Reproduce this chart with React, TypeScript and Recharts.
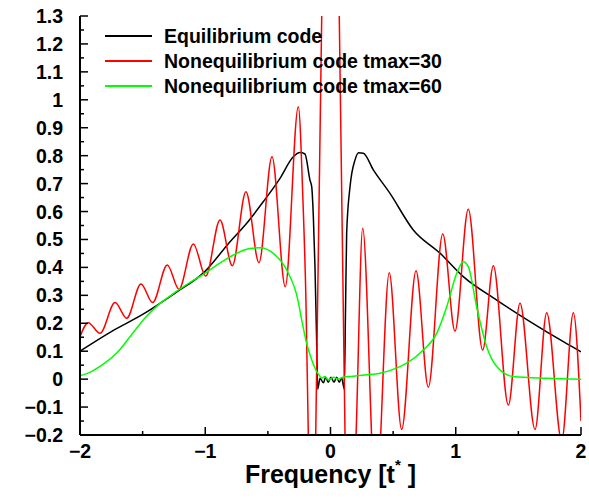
import React from 'react';
import { LineChart, Line, XAxis, YAxis, Legend, Label } from 'recharts';

// values
const blackX = [-2, -1.75, -1.483, -1.244, -1.004, -0.802, -0.669, -0.537, -0.403, -0.297, -0.244, -0.204, -0.164, -0.15, -0.137, -0.124, -0.112, -0.102, -0.084, -0.057, -0.038, -0.018, 0.004, 0.028, 0.049, 0.07, 0.089, 0.11, 0.12, 0.129, 0.156, 0.196, 0.225, 0.262, 0.342, 0.475, 0.661, 0.874, 1.06, 1.327, 1.593, 1.859, 2];
const blackY = [0.1, 0.17, 0.236, 0.307, 0.385, 0.492, 0.558, 0.635, 0.719, 0.796, 0.811, 0.806, 0.713, 0.689, 0.582, 0.403, 0.164, -0.036, 0.003, -0.013, 0.007, -0.011, 0.007, -0.011, 0.007, -0.011, 0.005, -0.036, 0.25, 0.522, 0.689, 0.785, 0.81, 0.809, 0.749, 0.665, 0.534, 0.451, 0.367, 0.283, 0.206, 0.134, 0.098];

const redX = [-2, -1.934, -1.84, -1.72, -1.627, -1.513, -1.42, -1.303, -1.21, -1.095, -0.996, -0.882, -0.784, -0.675, -0.571, -0.467, -0.361, -0.257, -0.22, -0.196, -0.177, -0.147, -0.118, -0.07, -0.035, 0, 0.035, 0.07, 0.116, 0.16, 0.204, 0.257, 0.362, 0.469, 0.568, 0.683, 0.781, 0.896, 0.994, 1.1, 1.215, 1.3, 1.42, 1.513, 1.633, 1.726, 1.846, 1.939, 2];
const redY = [0.152, 0.202, 0.164, 0.274, 0.218, 0.341, 0.274, 0.409, 0.322, 0.484, 0.369, 0.57, 0.406, 0.671, 0.417, 0.796, 0.331, 0.975, 0.64, 0.28, -0.2, -0.65, -0.2, 1.3, 3.2, 3.8, 3.2, 1.3, -0.2, -0.7, -0.2, 0.54, -0.45, 0.381, -0.18, 0.388, -0.029, 0.52, 0.172, 0.608, 0.104, 0.406, -0.093, 0.272, -0.18, 0.238, -0.22, 0.238, -0.15];

const greenX = [-2, -1.91, -1.803, -1.697, -1.59, -1.483, -1.377, -1.271, -1.111, -1.004, -0.925, -0.802, -0.643, -0.563, -0.457, -0.35, -0.26, -0.23, -0.19, -0.15, -0.11, -0.092, -0.07, -0.045, -0.017, 0.022, 0.062, 0.102, 0.196, 0.276, 0.395, 0.555, 0.608, 0.741, 0.848, 0.928, 1.008, 1.06, 1.1, 1.167, 1.247, 1.327, 1.46, 1.726, 2];
const greenY = [0.012, 0.027, 0.057, 0.098, 0.158, 0.218, 0.265, 0.301, 0.349, 0.379, 0.403, 0.438, 0.468, 0.47, 0.45, 0.391, 0.283, 0.212, 0.128, 0.069, 0.027, 0.015, 0.003, 0.009, -0.003, 0.007, 0, 0.007, 0.011, 0.015, 0.021, 0.045, 0.057, 0.104, 0.164, 0.259, 0.379, 0.42, 0.403, 0.259, 0.116, 0.045, 0.009, 0.003, 0];

const xMajorTicks = [-2, -1, 0, 1, 2];
const xMinorTicks = [-1.5, -0.5, 0.5, 1.5];
const yMajorTicks = [-0.2, -0.1, 0, 0.1, 0.2, 0.3, 0.4, 0.5, 0.6, 0.7, 0.8, 0.9, 1, 1.1, 1.2, 1.3];
const yMinorTicks = [-0.15, -0.05, 0.05, 0.15, 0.25, 0.35, 0.45, 0.55, 0.65, 0.75, 0.85, 0.95, 1.05, 1.15, 1.25];

const seriesNames = ['Equilibrium code', 'Nonequilibrium code tmax=30', 'Nonequilibrium code tmax=60'];

const toPoints = (xs: number[], ys: number[]) => xs.map((x, i) => ({ x, y: ys[i] }));
const blackData = toPoints(blackX, blackY);
const redData = toPoints(redX, redY);
const greenData = toPoints(greenX, greenY);

const xTicks = [...xMajorTicks, ...xMinorTicks].sort((a, b) => a - b);
const yTicks = [...yMajorTicks, ...yMinorTicks].sort((a, b) => a - b);

const FONT = '"Liberation Sans", Arial, Helvetica, sans-serif';
const fmt = (v: number) => (v < 0 ? '\u2212' + Math.abs(v) : String(v));

// gnuplot-style inward ticks
const BottomTick = (props: any) => {
  const { x, y, payload } = props;
  const major = xMajorTicks.includes(payload.value);
  return (
    <g>
      <line x1={x} x2={x} y1={y} y2={y - (major ? 8 : 4)} stroke="#000" strokeWidth={1.5} />
      {major && (
        <text x={x} y={y + 23} textAnchor="middle" fontFamily={FONT} fontWeight="bold" fontSize={19.5} fill="#000">
          {fmt(payload.value)}
        </text>
      )}
    </g>
  );
};

const TopTick = (props: any) => {
  const { x, y, payload } = props;
  const major = xMajorTicks.includes(payload.value);
  return <line x1={x} x2={x} y1={y} y2={y + (major ? 8 : 4)} stroke="#000" strokeWidth={1.5} />;
};

const LeftTick = (props: any) => {
  const { x, y, payload } = props;
  const major = yMajorTicks.includes(payload.value);
  return (
    <g>
      <line x1={x} x2={x + (major ? 8 : 4)} y1={y} y2={y} stroke="#000" strokeWidth={1.5} />
      {major && (
        <text x={x - 17} y={y} dy="0.36em" textAnchor="end" fontFamily={FONT} fontWeight="bold" fontSize={19.5} fill="#000">
          {fmt(payload.value)}
        </text>
      )}
    </g>
  );
};

const RightTick = (props: any) => {
  const { x, y, payload } = props;
  const major = yMajorTicks.includes(payload.value);
  return <line x1={x} x2={x - (major ? 8 : 4)} y1={y} y2={y} stroke="#000" strokeWidth={1.5} />;
};

const LegendBox = (props: any) => {
  const items = props.payload || [];
  return (
    <div style={{ fontFamily: FONT, fontWeight: 'bold', fontSize: 19.5, color: '#000' }}>
      {items.map((it: any) => (
        <div key={it.value} style={{ display: 'flex', alignItems: 'center', height: 25, lineHeight: '25px', whiteSpace: 'nowrap' }}>
          <span style={{ display: 'inline-block', width: 47, height: 1.5, background: it.color, marginRight: 12 }} />
          <span>{it.value}</span>
        </div>
      ))}
    </div>
  );
};

const AxisTitle = (props: any) => {
  const { viewBox } = props;
  const cx = viewBox.x + viewBox.width / 2;
  return (
    <text x={cx} y={viewBox.y + 48} textAnchor="middle" fontFamily={FONT} fontWeight="bold" fontSize={25} fill="#000">
      <tspan>Frequency [t</tspan>
      <tspan dy={-13} fontSize={15}>*</tspan>
      <tspan dy={13}> ]</tspan>
    </text>
  );
};

const axisLine = { stroke: '#000', strokeWidth: 2 };

export default function App() {
  return (
    <div style={{ position: 'absolute', left: 0, top: 0, background: '#fff' }}>
      <LineChart width={589} height={500} margin={{ top: 16, right: 8, bottom: 0, left: 0 }}>
        <XAxis
          dataKey="x"
          type="number"
          domain={[-2, 2]}
          allowDataOverflow
          ticks={xTicks}
          interval={0}
          height={65}
          tickSize={0}
          tickMargin={0}
          tickLine={false}
          axisLine={axisLine}
          tick={<BottomTick />}
        >
          <Label content={<AxisTitle />} />
        </XAxis>
        <XAxis
          xAxisId="top"
          dataKey="x"
          type="number"
          orientation="top"
          domain={[-2, 2]}
          allowDataOverflow
          ticks={xTicks}
          interval={0}
          height={0}
          tickSize={0}
          tickMargin={0}
          tickLine={false}
          axisLine={axisLine}
          tick={<TopTick />}
        />
        <YAxis
          type="number"
          domain={[-0.2, 1.3]}
          allowDataOverflow
          ticks={yTicks}
          interval={0}
          width={80}
          tickSize={0}
          tickMargin={0}
          tickLine={false}
          axisLine={axisLine}
          tick={<LeftTick />}
        />
        <YAxis
          yAxisId="right"
          type="number"
          orientation="right"
          domain={[-0.2, 1.3]}
          allowDataOverflow
          ticks={yTicks}
          interval={0}
          width={0}
          tickSize={0}
          tickMargin={0}
          tickLine={false}
          axisLine={axisLine}
          tick={<RightTick />}
        />
        <Legend
          layout="vertical"
          align="center"
          verticalAlign="middle"
          wrapperStyle={{ left: 105, top: 23.5, width: 'auto' }}
          content={<LegendBox />}
        />
        <Line data={blackData} dataKey="y" name={seriesNames[0]} type="monotone" stroke="#000000" strokeWidth={1.5} dot={false} isAnimationActive={false} />
        <Line data={redData} dataKey="y" name={seriesNames[1]} type="monotone" stroke="#ff0000" strokeWidth={1.5} dot={false} isAnimationActive={false} />
        <Line data={greenData} dataKey="y" name={seriesNames[2]} type="monotone" stroke="#00ff00" strokeWidth={1.5} dot={false} isAnimationActive={false} />
      </LineChart>
    </div>
  );
}
